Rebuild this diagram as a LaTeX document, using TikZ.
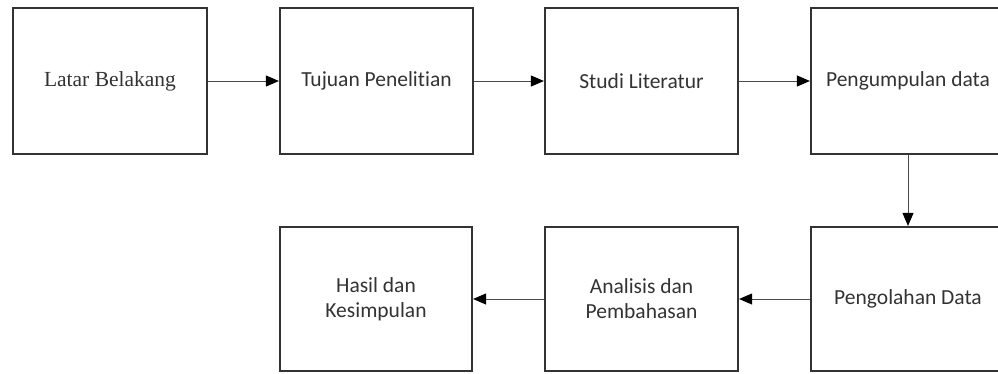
\documentclass[tikz,border=0pt]{standalone}
\usepackage{fontspec}
\setmainfont[Ligatures={NoCommon}]{Carlito}
\newfontfamily\serifface{Liberation Serif}
\usetikzlibrary{arrows.meta}
\definecolor{boxline}{HTML}{333333}
\definecolor{txt}{HTML}{333333}
\definecolor{arr}{HTML}{4A4A4A}
\tikzset{
  procbox/.style={draw=boxline, line width=2.2pt, fill=white, minimum height=146pt, inner sep=0pt,
    text=txt, font=\fontsize{21.5}{25}\selectfont, align=center},
  flow/.style={draw=arr, line width=0.9pt, -{Triangle[length=13pt,width=11pt,color=black]}}
}
\begin{document}
\begin{tikzpicture}[x=1pt,y=-1pt]
\clip (0,0) rectangle (998,373);
\fill[white] (0,0) rectangle (998,373);
\node[procbox, minimum width=194pt, font=\serifface\fontsize{21.5}{25}\selectfont] (latar) at (110,81) {Latar Belakang};
\node[procbox, minimum width=193pt] (tujuan) at (376.5,81) {Tujuan Penelitian};
\node[procbox, minimum width=193pt] (studi) at (641.5,81) {Studi Literatur};
\node[procbox, minimum width=194pt] (kumpul) at (908,81) {Pengumpulan data};
\node[procbox, minimum width=194pt, minimum height=144pt] (olah) at (908,299) {Pengolahan Data};
\node[procbox, minimum width=193pt, minimum height=144pt] (analisis) at (641.5,299) {Analisis dan\\Pembahasan};
\node[procbox, minimum width=192pt, minimum height=144pt] (hasil) at (376,299) {Hasil dan\\Kesimpulan};
\draw[flow] (latar) -- (tujuan);
\draw[flow] (tujuan) -- (studi);
\draw[flow] (studi) -- (kumpul);
\draw[flow] (kumpul) -- (olah);
\draw[flow] (olah) -- (analisis);
\draw[flow] (analisis) -- (hasil);
\end{tikzpicture}
\end{document}
